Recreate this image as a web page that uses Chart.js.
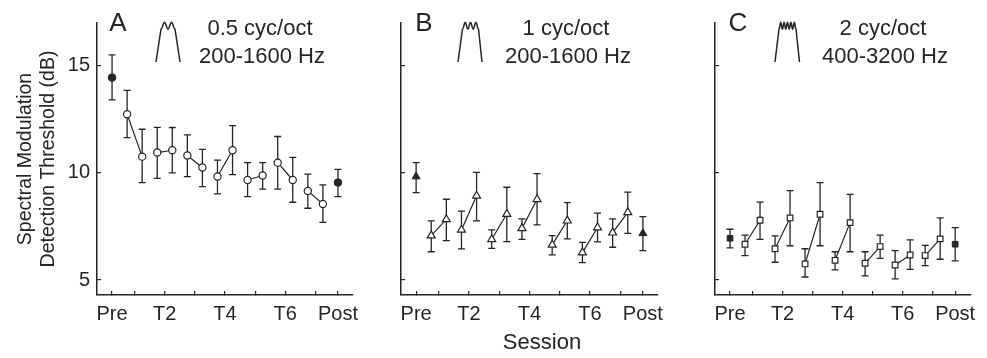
<!DOCTYPE html>
<html><head><meta charset="utf-8">
<script src="https://cdn.jsdelivr.net/npm/chart.js@4.4.0/dist/chart.umd.min.js"></script>
<style>
html,body{margin:0;padding:0;background:#fff;}
#wrap{position:relative;width:987px;height:358px;overflow:hidden;}
#wrap canvas{position:absolute;left:0;top:0;}
</style></head><body>
<div id="wrap">
<canvas id="cA" width="987" height="358"></canvas>
<canvas id="cB" width="987" height="358"></canvas>
<canvas id="cC" width="987" height="358"></canvas>
</div>
<script>
// ---- data ----
const sessions = [0,1,2,3,4,5,6,7,8,9,10,11,12,13,14,15];
const tickValues = [0, 1.5, 3.5, 5.5, 7.5, 9.5, 11.5, 13.5, 15];
const tickLabels = ['Pre', '', 'T2', '', 'T4', '', 'T6', '', 'Post'];
const yTicks = [5, 10, 15];

const meanA = [14.45, 12.74, 10.76, 10.95, 11.06, 10.81, 10.25, 9.83, 11.06, 9.67, 9.88, 10.48, 9.67, 9.16, 8.55, 9.55];
const loA   = [13.41, 11.65, 9.55, 9.75, 10.0, 9.83, 9.36, 9.02, 9.92, 8.89, 9.24, 9.24, 8.63, 8.35, 7.69, 8.89];
const hiA   = [15.51, 13.85, 12.04, 12.13, 12.12, 11.78, 11.1, 10.6, 12.21, 10.48, 10.48, 11.70, 10.73, 9.94, 9.44, 10.17];

const meanB = [9.83, 7.07, 7.83, 7.34, 8.93, 6.9, 8.08, 7.41, 8.77, 6.64, 7.77, 6.28, 7.45, 7.21, 8.16, 7.18];
const loB   = [9.08, 6.32, 6.84, 6.45, 7.76, 6.48, 6.79, 6.9, 7.57, 6.17, 6.92, 5.81, 6.78, 6.53, 7.18, 6.37];
const hiB   = [10.48, 7.76, 8.77, 8.22, 10.03, 7.34, 9.33, 7.85, 9.97, 7.07, 8.61, 6.76, 8.12, 7.85, 9.1, 7.96];

const meanC = [6.95, 6.67, 7.79, 6.46, 7.9, 5.75, 8.07, 5.92, 7.68, 5.78, 6.56, 5.7, 6.17, 6.14, 6.92, 6.67];
const loC   = [6.5, 6.14, 6.9, 5.83, 6.6, 5.14, 6.6, 5.47, 6.32, 5.19, 6.01, 5.05, 5.5, 5.67, 5.97, 5.89];
const hiC   = [7.37, 7.1, 8.64, 7.06, 9.17, 6.46, 9.55, 6.32, 9.0, 6.32, 7.1, 6.37, 6.87, 6.62, 7.9, 7.45];

const panelLetters = ['A', 'B', 'C'];
const panelLine1 = ['0.5 cyc/oct', '1 cyc/oct', '2 cyc/oct'];
const panelLine2 = ['200-1600 Hz', '200-1600 Hz', '400-3200 Hz'];
const yTitle = ['Spectral Modulation', 'Detection Threshold (dB)'];
const xTitle = 'Session';

// ---- style ----
const INK = '#262626';
const FONT = "'Liberation Sans', Arial, Helvetica, sans-serif";

function pairLine(mean) {
  const pts = [];
  for (let i = 1; i <= 13; i += 2) {
    pts.push({x: sessions[i], y: mean[i]}, {x: sessions[i+1], y: mean[i+1]}, {x: sessions[i+1] + 0.5, y: null});
  }
  return pts;
}
function pick(mean, idxs) { return idxs.map(i => ({x: sessions[i], y: mean[i]})); }

function makeErrorBars(lo, hi) {
  return {
    id: 'errorBars',
    beforeDatasetsDraw(chart) {
      const {ctx, scales: {x, y}} = chart;
      ctx.save();
      ctx.strokeStyle = INK; ctx.lineWidth = 1.3;
      lo.forEach((l, i) => {
        const px = x.getPixelForValue(sessions[i]);
        const p1 = y.getPixelForValue(l), p2 = y.getPixelForValue(hi[i]);
        ctx.beginPath();
        ctx.moveTo(px, p1); ctx.lineTo(px, p2);
        ctx.moveTo(px - 3.5, p1); ctx.lineTo(px + 3.5, p1);
        ctx.moveTo(px - 3.5, p2); ctx.lineTo(px + 3.5, p2);
        ctx.stroke();
      });
      ctx.restore();
    }
  };
}

function drawIcon(ctx, x0, xl, xr, x1, n) {
  const yb = 62, yDip = 29, yPeak = 22.5;
  ctx.beginPath();
  ctx.moveTo(x0, yb);
  ctx.lineTo(xl, yDip);
  const steps = 80;
  for (let s = 0; s <= steps; s++) {
    const u = s / steps;
    const xx = xl + (xr - xl) * u;
    const yy = yDip - (yDip - yPeak) * Math.pow(Math.sin(Math.PI * n * u), 2);
    ctx.lineTo(xx, yy);
  }
  ctx.lineTo(x1, yb);
  ctx.stroke();
}

function makeHeader(k, lx, tx, icon, extra) {
  return {
    id: 'header',
    afterDraw(chart) {
      const ctx = chart.ctx;
      ctx.save();
      ctx.fillStyle = INK; ctx.strokeStyle = INK;
      ctx.textAlign = 'center'; ctx.textBaseline = 'middle';
      ctx.font = '26px ' + FONT;
      ctx.fillText(panelLetters[k], lx, 24);
      ctx.font = '22px ' + FONT;
      ctx.fillText(panelLine1[k], tx, 29);
      ctx.fillText(panelLine2[k], tx + 2, 57);
      ctx.lineWidth = 1.5;
      drawIcon(ctx, icon[0], icon[1], icon[2], icon[3], icon[4]);
      if (extra) {
        ctx.font = '22px ' + FONT;
        ctx.fillText(xTitle, 542, 343);
      }
      ctx.restore();
    }
  };
}

function makePanel(id, k, mean, lo, hi, style, rOpen, rFill, padLeft, padRight, yWidth, lx, tx, icon) {
  const yOpts = {
    type: 'linear', min: 4.3, max: 17,
    afterBuildTicks: s => { s.ticks = yTicks.map(v => ({value: v})); },
    afterFit: s => { s.width = yWidth; },
    ticks: {
      callback: v => (k === 0 ? String(v) : ''),
      font: {family: FONT, size: 20}, color: INK, padding: 11
    },
    grid: {display: true, drawOnChartArea: false, drawTicks: true, tickLength: -4, color: INK, lineWidth: 1.2},
    border: {display: true, color: INK, width: 1.5}
  };
  if (k === 0) {
    yOpts.title = {display: true, text: yTitle, font: {family: FONT, size: 19.5, lineHeight: 1.18}, color: INK, padding: {top: 14, bottom: 0}};
  }
  return new Chart(document.getElementById(id), {
    type: 'line',
    data: {
      datasets: [
        {data: pick(mean, [0, 15]), showLine: false, pointStyle: style, pointRadius: rFill,
         backgroundColor: INK, borderColor: INK, borderWidth: 1, order: 0},
        {data: pick(mean, sessions.slice(1, 15)), showLine: false, pointStyle: style, pointRadius: rOpen,
         backgroundColor: '#ffffff', borderColor: INK, borderWidth: 1.2, order: 1},
        {data: pairLine(mean), showLine: true, spanGaps: false, pointRadius: 0, borderColor: INK,
         borderWidth: 1.2, tension: 0, order: 2}
      ]
    },
    options: {
      responsive: false, animation: false, devicePixelRatio: 1,
      layout: {padding: {left: padLeft, right: padRight, top: 23, bottom: 0}},
      plugins: {legend: {display: false}, tooltip: {enabled: false}},
      scales: {
        x: {
          type: 'linear', min: -1, max: 16,
          afterBuildTicks: s => { s.ticks = tickValues.map(v => ({value: v})); },
          afterFit: s => { s.height = 63; },
          ticks: {
            autoSkip: false, maxRotation: 0,
            callback: (v, i) => tickLabels[i],
            font: {family: FONT, size: 20}, color: INK, padding: 11
          },
          grid: {display: true, drawOnChartArea: false, drawTicks: true, tickLength: -4, color: INK, lineWidth: 1.2},
          border: {display: true, color: INK, width: 1.5}
        },
        y: yOpts
      }
    },
    plugins: [makeErrorBars(lo, hi), makeHeader(k, lx, tx, icon, k === 1)]
  });
}

makePanel('cA', 0, meanA, loA, hiA, 'circle', 3.6, 3.8, 0, 634, 97, 118, 260, [156, 161, 175, 180, 2]);
makePanel('cB', 1, meanB, loB, hiB, 'triangle', 4.6, 4.6, 361, 329, 40, 424, 566, [458, 462.5, 478.5, 482, 3]);
makePanel('cC', 2, meanC, loC, hiC, 'rect', 4.0, 4.0, 675, 14, 40, 738, 883, [775, 779, 796, 799.5, 5]);
</script>
</body></html>
